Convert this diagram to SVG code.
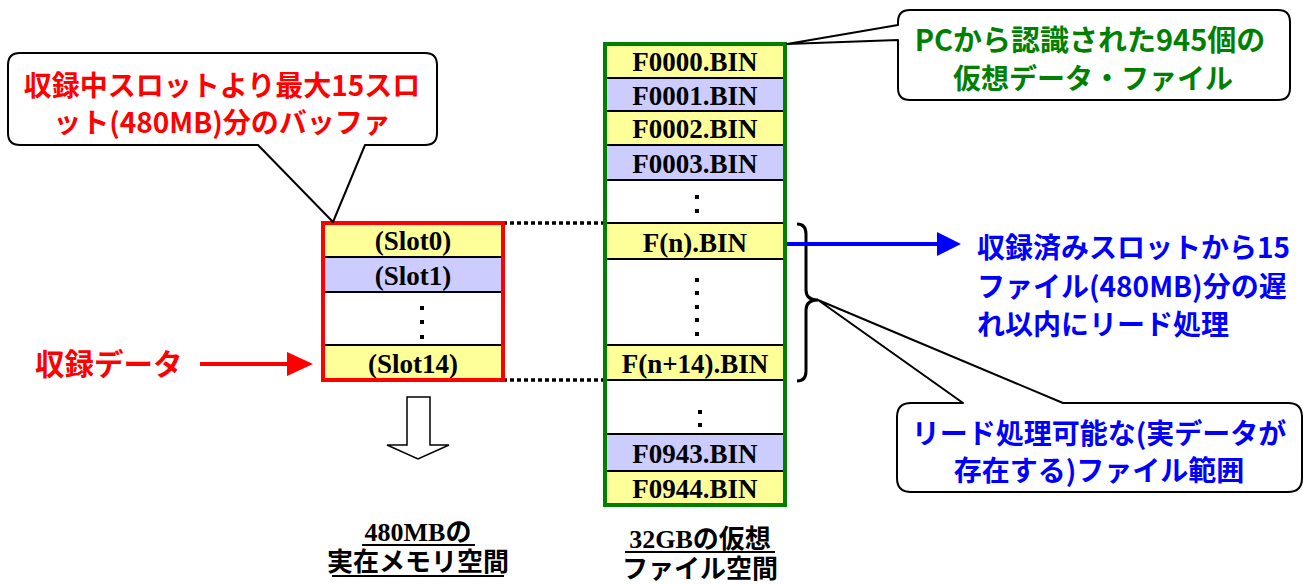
<svg xmlns="http://www.w3.org/2000/svg" width="1314" height="584" viewBox="0 0 1314 584">
  <style>
    .goth { font-family: "Noto Sans CJK JP", "Liberation Sans", sans-serif; font-weight: bold; }
    .ser { font-family: "Liberation Serif", "Noto Sans CJK JP", serif; font-weight: bold; }
    .cell { font-size: 27px; fill: #000; text-anchor: middle; }
    .yel { fill: #FFFF99; }
    .lav { fill: #CCCCFF; }
    .sep { stroke: #000; stroke-width: 2; }
    .dot { fill: #000; }
    .callout { fill: #fff; stroke: #000; stroke-width: 2; stroke-linejoin: round; }
    .big { font-size: 28px; }
    .lbl { font-size: 26px; fill: #000; text-anchor: middle; }
    .ul { stroke: #000; stroke-width: 2; }
  </style>

  <!-- connectors: dotted guides, brace, arrows -->
  <g id="connectors">
    <line x1="503" y1="223" x2="603" y2="223" stroke="#000" stroke-width="3.5" stroke-dasharray="4 3"/>
    <line x1="503" y1="380" x2="603" y2="380" stroke="#000" stroke-width="3.5" stroke-dasharray="4 3"/>
    <path d="M797,224 Q806,224 806,234 V290 Q806,300 818,300 Q806,300 806,310 V371 Q806,381 797,381" fill="none" stroke="#000" stroke-width="3"/>
    <line x1="787" y1="244" x2="939" y2="244" stroke="#0000FF" stroke-width="4"/>
    <polygon points="937,232 961,244 937,256" fill="#0000FF"/>
    <line x1="200" y1="364" x2="289" y2="364" stroke="#FF0000" stroke-width="4"/>
    <polygon points="287,352 313,364 287,376" fill="#FF0000"/>
    <polygon points="407,397 430,397 430,445 449,445 418,459 387,445 407,445" fill="#fff" stroke="#000" stroke-width="1.5" stroke-linejoin="miter"/>
  </g>

  <!-- buffer in memory -->
  <g id="buffer">
    <rect x="323" y="223" width="180" height="34" class="yel"/>
    <rect x="323" y="257" width="180" height="35" class="lav"/>
    <rect x="323" y="292" width="180" height="53" fill="#fff"/>
    <rect x="323" y="345" width="180" height="35" class="yel"/>
    <line x1="323" y1="257" x2="503" y2="257" class="sep"/>
    <line x1="323" y1="292" x2="503" y2="292" class="sep"/>
    <line x1="323" y1="345" x2="503" y2="345" class="sep"/>
    <text x="413" y="250" class="ser cell">(Slot0)</text>
    <text x="413" y="285" class="ser cell">(Slot1)</text>
    <rect x="420" y="306" width="4" height="4" class="dot"/>
    <rect x="420" y="320" width="4" height="4" class="dot"/>
    <rect x="420" y="335" width="4" height="4" class="dot"/>
    <text x="413" y="373" class="ser cell">(Slot14)</text>
    <rect x="323" y="223" width="180" height="157" fill="none" stroke="#FF0000" stroke-width="4"/>
  </g>

  <!-- virtual file space -->
  <g id="files">
    <rect x="605" y="44" width="180" height="34" class="yel"/>
    <rect x="605" y="78" width="180" height="33" class="lav"/>
    <rect x="605" y="111" width="180" height="34" class="yel"/>
    <rect x="605" y="145" width="180" height="35" class="lav"/>
    <rect x="605" y="180" width="180" height="43" fill="#fff"/>
    <rect x="605" y="223" width="180" height="36" class="yel"/>
    <rect x="605" y="259" width="180" height="86" fill="#fff"/>
    <rect x="605" y="345" width="180" height="35" class="yel"/>
    <rect x="605" y="380" width="180" height="54" fill="#fff"/>
    <rect x="605" y="434" width="180" height="37" class="lav"/>
    <rect x="605" y="471" width="180" height="34" class="yel"/>
    <line x1="605" y1="78" x2="785" y2="78" class="sep"/>
    <line x1="605" y1="111" x2="785" y2="111" class="sep"/>
    <line x1="605" y1="145" x2="785" y2="145" class="sep"/>
    <line x1="605" y1="180" x2="785" y2="180" class="sep"/>
    <line x1="605" y1="223" x2="785" y2="223" class="sep"/>
    <line x1="605" y1="259" x2="785" y2="259" class="sep"/>
    <line x1="605" y1="345" x2="785" y2="345" class="sep"/>
    <line x1="605" y1="380" x2="785" y2="380" class="sep"/>
    <line x1="605" y1="434" x2="785" y2="434" class="sep"/>
    <line x1="605" y1="471" x2="785" y2="471" class="sep"/>
    <text x="695" y="71" class="ser cell">F0000.BIN</text>
    <text x="695" y="105" class="ser cell">F0001.BIN</text>
    <text x="695" y="138" class="ser cell">F0002.BIN</text>
    <text x="695" y="173" class="ser cell">F0003.BIN</text>
    <rect x="695" y="195" width="4" height="4" class="dot"/>
    <rect x="695" y="209" width="4" height="4" class="dot"/>
    <text x="695" y="252" class="ser cell">F(n).BIN</text>
    <rect x="695" y="278" width="4" height="4" class="dot"/>
    <rect x="695" y="291" width="4" height="4" class="dot"/>
    <rect x="695" y="305" width="4" height="4" class="dot"/>
    <rect x="695" y="318" width="4" height="4" class="dot"/>
    <rect x="695" y="332" width="4" height="4" class="dot"/>
    <text x="695" y="373" class="ser cell">F(n+14).BIN</text>
    <rect x="698" y="410" width="4" height="4" class="dot"/>
    <rect x="698" y="423" width="4" height="4" class="dot"/>
    <text x="695" y="463" class="ser cell">F0943.BIN</text>
    <text x="695" y="498" class="ser cell">F0944.BIN</text>
    <rect x="605" y="44" width="180" height="461" fill="none" stroke="#008000" stroke-width="4"/>
  </g>

  <!-- callout: buffer size -->
  <g id="callout-buffer">
    <path class="callout" d="M20,53 H425 Q437,53 437,65 V133 Q437,145 425,145 H365 L333,222 L258,145 H20 Q8,145 8,133 V65 Q8,53 20,53 Z"/>
    <text x="222" y="96" class="goth big" fill="#FF0000" text-anchor="middle">収録中スロットより最大15スロ</text>
    <text x="222" y="133" class="goth big" fill="#FF0000" text-anchor="middle">ット(480MB)分のバッファ</text>
  </g>

  <!-- callout: virtual files -->
  <g id="callout-files">
    <path class="callout" d="M910,10 H1278 Q1290,10 1290,22 V88 Q1290,100 1278,100 H910 Q898,100 898,88 V40 L787,44 L898,25 V22 Q898,10 910,10 Z"/>
    <text x="1090" y="51" class="goth" font-size="29" fill="#008000" text-anchor="middle">PCから認識された945個の</text>
    <text x="1093" y="89" class="goth big" fill="#008000" text-anchor="middle">仮想データ・ファイル</text>
  </g>

  <!-- callout: readable range -->
  <g id="callout-range">
    <path class="callout" d="M911,403 H963 L818,300 L1063,403 H1288 Q1302,403 1302,417 V478 Q1302,492 1288,492 H911 Q897,492 897,478 V417 Q897,403 911,403 Z"/>
    <text x="1099" y="444" class="goth big" fill="#0000FF" text-anchor="middle">リード処理可能な(実データが</text>
    <text x="1099" y="481" class="goth big" fill="#0000FF" text-anchor="middle">存在する)ファイル範囲</text>
  </g>

  <!-- read delay note -->
  <g id="note-read">
    <text x="977" y="258" class="goth big" fill="#0000FF">収録済みスロットから15</text>
    <text x="977" y="297" class="goth big" fill="#0000FF">ファイル(480MB)分の遅</text>
    <text x="977" y="335" class="goth big" fill="#0000FF">れ以内にリード処理</text>
  </g>

  <!-- input label -->
  <g id="input-label">
    <text x="35" y="375" class="goth" font-size="29.5" fill="#FF0000">収録データ</text>
  </g>

  <!-- bottom captions -->
  <g id="caption-memory">
    <text x="418" y="541" class="ser lbl">480MBの</text>
    <line x1="362" y1="545" x2="475" y2="545" class="ul"/>
    <text x="418" y="571" class="ser lbl">実在メモリ空間</text>
    <line x1="332" y1="576" x2="504" y2="576" class="ul"/>
  </g>
  <g id="caption-files">
    <text x="700" y="548" class="ser lbl">32GBの仮想</text>
    <line x1="625" y1="552" x2="775" y2="552" class="ul"/>
    <text x="700" y="578" class="ser lbl">ファイル空間</text>
  </g>
</svg>
